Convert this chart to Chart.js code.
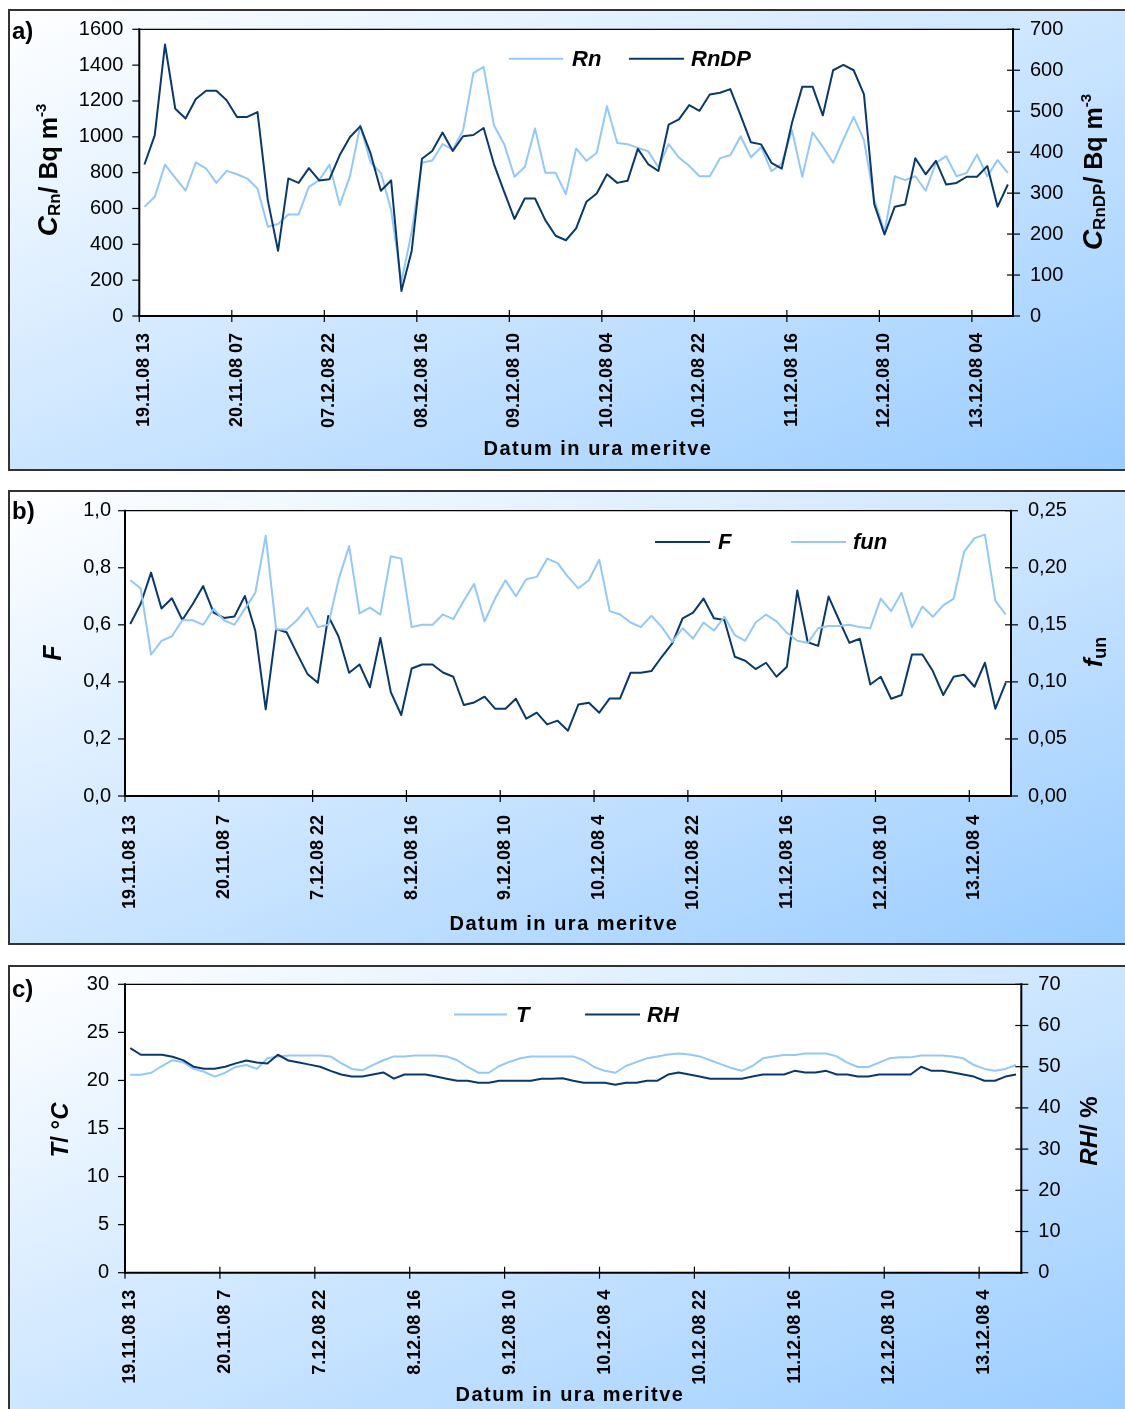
<!DOCTYPE html>
<html>
<head>
<meta charset="utf-8">
<title>Rn, RnDP, F, fun, T, RH</title>
<script src="https://cdn.jsdelivr.net/npm/chart.js@4.4.1/dist/chart.umd.min.js"></script>
<style>
  html, body { margin: 0; padding: 0; background: #fff; width: 1125px; height: 1409px; overflow: hidden; position: relative; }
  .panel { position: absolute; left: 8px; width: 1135px; box-sizing: border-box; border: 2px solid #333;
           background: linear-gradient(to bottom right, #ffffff 0%, #99ccff 100%); }
  canvas { position: absolute; left: 0; }
</style>
</head>
<body>
<div class="panel" style="top:9px;height:462px"></div>
<div class="panel" style="top:490px;height:455px"></div>
<div class="panel" style="top:965px;height:460px"></div>
<canvas id="chartA" width="1125" height="461" style="top:9px;width:1125px;height:461px"></canvas>
<canvas id="chartB" width="1125" height="454" style="top:490px;width:1125px;height:454px"></canvas>
<canvas id="chartC" width="1125" height="444" style="top:965px;width:1125px;height:444px"></canvas>
<script>
// Readings every 2 hours; a date label is written on every 9th reading (18 h).
const LABEL_EVERY = 9;

const tickLabelsA = ['19.11.08 13', '20.11.08 07', '07.12.08 22', '08.12.08 16', '09.12.08 10',
                     '10.12.08 04', '10.12.08 22', '11.12.08 16', '12.12.08 10', '13.12.08 04'];
const tickLabelsBC = ['19.11.08 13', '20.11.08 7', '7.12.08 22', '8.12.08 16', '9.12.08 10',
                      '10.12.08 4', '10.12.08 22', '11.12.08 16', '12.12.08 10', '13.12.08 4'];

// a) radon concentration (left axis) and radon decay products (right axis), Bq m-3
const rn = [
  609, 665, 845, 771, 699, 857, 823, 743, 810, 791,
  767, 712, 498, 513, 567, 567, 721, 758, 845, 619,
  782, 1065, 857, 799, 591, 190, 470, 855, 868, 959,
  929, 1037, 1356, 1390, 1065, 959, 777, 832, 1046, 799,
  799, 680, 935, 866, 910, 1171, 966, 959, 938, 920,
  830, 959, 884, 838, 780, 780, 881, 897, 1003, 886,
  942, 808, 851, 1037, 777, 1024, 944, 855, 985, 1111,
  981, 650, 470, 780, 758, 780, 699, 855, 892, 780,
  799, 901, 780, 870, 799
];
const rnDP = [
  370, 441, 663, 506, 482, 530, 550, 550, 527, 486,
  486, 498, 283, 159, 336, 325, 361, 331, 334, 393,
  437, 463, 397, 306, 331, 61, 159, 384, 403, 448,
  403, 439, 442, 459, 371, 303, 237, 287, 287, 234,
  196, 185, 214, 279, 299, 346, 325, 330, 408, 371,
  354, 467, 480, 515, 501, 541, 545, 554, 490, 424,
  419, 374, 360, 472, 560, 560, 490, 600, 613, 600,
  541, 273, 199, 267, 272, 385, 346, 379, 321, 325,
  340, 340, 366, 267, 321
];

// b) equilibrium factor F (left axis) and unattached fraction fun (right axis)
const equilibriumF = [
  0.603, 0.673, 0.783, 0.657, 0.693, 0.617, 0.673, 0.736, 0.643, 0.624,
  0.629, 0.701, 0.579, 0.304, 0.585, 0.574, 0.500, 0.428, 0.397, 0.631,
  0.558, 0.432, 0.461, 0.381, 0.554, 0.364, 0.284, 0.447, 0.461, 0.461,
  0.433, 0.418, 0.319, 0.328, 0.348, 0.306, 0.306, 0.341, 0.271, 0.292,
  0.251, 0.264, 0.229, 0.321, 0.327, 0.292, 0.342, 0.342, 0.432, 0.432,
  0.438, 0.488, 0.535, 0.623, 0.643, 0.692, 0.623, 0.617, 0.488, 0.474,
  0.445, 0.467, 0.418, 0.453, 0.720, 0.539, 0.526, 0.699, 0.617, 0.537,
  0.551, 0.391, 0.418, 0.341, 0.354, 0.496, 0.496, 0.438, 0.354, 0.418,
  0.425, 0.383, 0.467, 0.306, 0.397
];
const fun = [
  0.189, 0.182, 0.124, 0.136, 0.140, 0.154, 0.154, 0.150, 0.164, 0.154,
  0.150, 0.164, 0.178, 0.228, 0.146, 0.146, 0.154, 0.165, 0.148, 0.150,
  0.190, 0.219, 0.160, 0.165, 0.159, 0.210, 0.208, 0.148, 0.150, 0.150,
  0.159, 0.155, 0.171, 0.186, 0.153, 0.173, 0.189, 0.175, 0.190, 0.192,
  0.208, 0.204, 0.192, 0.182, 0.189, 0.207, 0.162, 0.159, 0.152, 0.148,
  0.158, 0.148, 0.135, 0.147, 0.138, 0.152, 0.145, 0.157, 0.141, 0.136,
  0.152, 0.159, 0.153, 0.143, 0.136, 0.134, 0.147, 0.149, 0.149, 0.150,
  0.148, 0.147, 0.173, 0.162, 0.178, 0.148, 0.166, 0.157, 0.167, 0.173,
  0.214, 0.226, 0.229, 0.171, 0.159
];

// c) air temperature in °C (left axis) and relative humidity in % (right axis)
const temperature = [
  20.6, 20.6, 20.8, 21.5, 22.1, 21.9, 21.2, 20.9, 20.4, 20.8,
  21.4, 21.6, 21.2, 22.3, 22.5, 22.6, 22.6, 22.6, 22.6, 22.5,
  21.8, 21.2, 21.05, 21.6, 22.1, 22.5, 22.5, 22.6, 22.6, 22.6,
  22.5, 22.1, 21.4, 20.8, 20.8, 21.5, 21.95, 22.3, 22.5, 22.5,
  22.5, 22.5, 22.5, 22.1, 21.4, 21.0, 20.8, 21.5, 21.9, 22.3,
  22.5, 22.7, 22.8, 22.7, 22.5, 22.1, 21.7, 21.3, 21.0, 21.5,
  22.3, 22.5, 22.65, 22.65, 22.8, 22.8, 22.8, 22.5, 21.85, 21.4,
  21.4, 21.85, 22.3, 22.4, 22.4, 22.6, 22.6, 22.6, 22.5, 22.3,
  21.6, 21.2, 21.0, 21.2, 21.6
];
const humidity = [
  54.5, 52.9, 52.9, 52.9, 52.4, 51.6, 50.0, 49.5, 49.5, 50.0,
  50.8, 51.5, 51.0, 50.8, 52.9, 51.5, 51.0, 50.5, 50.0, 49.0,
  48.1, 47.6, 47.6, 48.1, 48.6, 47.1, 48.1, 48.1, 48.1, 47.6,
  47.1, 46.6, 46.6, 46.1, 46.1, 46.6, 46.6, 46.6, 46.6, 47.1,
  47.1, 47.2, 46.6, 46.1, 46.1, 46.1, 45.6, 46.1, 46.1, 46.6,
  46.6, 48.1, 48.6, 48.1, 47.6, 47.1, 47.1, 47.1, 47.1, 47.6,
  48.1, 48.1, 48.1, 49.0, 48.6, 48.6, 49.0, 48.1, 48.1, 47.6,
  47.6, 48.1, 48.1, 48.1, 48.1, 50.0, 49.0, 49.0, 48.6, 48.1,
  47.6, 46.6, 46.6, 47.6, 48.1
];

const FAMILY = "'Liberation Sans', Arial, Helvetica, sans-serif";
const DARK = '#0b386b';
const LIGHT = '#95c7f7';
const PAGE_W = 1125;

const comma = (digits) => (v) => Number(v).toFixed(digits).replace('.', ',');
const plain = (v) => String(v);

function drawRotatedRuns(ctx, runs, baseX, centerY) {
  let total = 0;
  runs.forEach(r => { ctx.font = r.font; r.w = ctx.measureText(r.text).width; total += r.w; });
  ctx.save();
  ctx.translate(baseX, centerY);
  ctx.rotate(-Math.PI / 2);
  ctx.textAlign = 'left';
  ctx.textBaseline = 'alphabetic';
  ctx.fillStyle = '#000';
  let x = -total / 2;
  runs.forEach(r => { ctx.font = r.font; ctx.fillText(r.text, x, r.dy || 0); x += r.w; });
  ctx.restore();
}

function panelPlugin(p) {
  return {
    id: 'panelDecor',
    beforeDraw(chart) {
      const { ctx, chartArea: a } = chart;
      ctx.save();
      ctx.fillStyle = '#ffffff';
      ctx.fillRect(a.left, a.top, a.right - a.left, a.bottom - a.top);
      ctx.restore();
    },
    afterDraw(chart) {
      const { ctx, chartArea: a, scales } = chart;
      const seg = (x1, y1, x2, y2) => { ctx.beginPath(); ctx.moveTo(x1, y1); ctx.lineTo(x2, y2); ctx.stroke(); };
      ctx.save();
      ctx.strokeStyle = '#000';
      ctx.lineCap = 'butt';

      // plot frame
      ctx.lineWidth = 1.3;
      seg(a.left, a.top, a.right, a.top);
      ctx.lineWidth = 2;
      seg(a.left, a.top - 1, a.left, a.bottom + 1);
      seg(a.left - 1, a.bottom, a.right + 1, a.bottom);
      seg(a.right, a.top - 1, a.right, a.bottom + 1);

      // tick marks
      ctx.lineWidth = 1.2;
      const xs = scales.x;
      const cw = xs.getPixelForValue(1) - xs.getPixelForValue(0);
      for (let i = 0; i < xs.ticks.length; i += LABEL_EVERY) {
        const px = xs.getPixelForValue(i) - cw / 2;
        seg(px, a.bottom - 6, px, a.bottom + 6);
      }
      scales.yL.ticks.forEach(t => {
        const py = scales.yL.getPixelForValue(t.value);
        seg(a.left - 7, py, a.left, py);
      });
      scales.yR.ticks.forEach(t => {
        const py = scales.yR.getPixelForValue(t.value);
        seg(a.right - 6, py, a.right + 7, py);
      });

      // panel letter
      ctx.fillStyle = '#000';
      ctx.textAlign = 'left';
      ctx.textBaseline = 'alphabetic';
      ctx.font = `bold 24px ${FAMILY}`;
      ctx.fillText(p.letter.text, p.letter.x, p.letter.y);

      // legend
      ctx.lineWidth = 2;
      ctx.font = `italic bold 22px ${FAMILY}`;
      ctx.textBaseline = 'middle';
      p.legend.forEach(item => {
        ctx.strokeStyle = item.color;
        seg(item.x1, p.legendY, item.x2, p.legendY);
        ctx.fillStyle = '#000';
        ctx.fillText(item.label, item.tx, p.legendY + 1);
      });

      // category axis title
      ctx.textAlign = 'center';
      ctx.textBaseline = 'alphabetic';
      ctx.font = `bold 20px ${FAMILY}`;
      if ('letterSpacing' in ctx) ctx.letterSpacing = '1.5px';
      ctx.fillText('Datum in ura meritve', p.xTitle.x, p.xTitle.y);
      if ('letterSpacing' in ctx) ctx.letterSpacing = '0px';

      // value axis titles
      drawRotatedRuns(ctx, p.leftTitle.runs, p.leftTitle.x, p.leftTitle.y);
      drawRotatedRuns(ctx, p.rightTitle.runs, p.rightTitle.x, p.rightTitle.y);
      ctx.restore();
    }
  };
}

function buildChart(canvasId, p) {
  const H = p.height;
  const n = p.series[0].data.length;
  const categories = Array.from({ length: n }, (_, i) => (i % LABEL_EVERY === 0 ? p.tickLabels[i / LABEL_EVERY] : ''));
  const yAxis = (ax, pos, widthFn) => ({
    type: 'linear',
    position: pos,
    min: ax.min,
    max: ax.max,
    grid: { display: false, drawTicks: false },
    border: { display: false },
    ticks: {
      stepSize: ax.step,
      padding: ax.pad,
      color: '#000',
      font: { family: FAMILY, size: 20 },
      callback: ax.fmt
    },
    afterFit: (s) => {
      s.width = widthFn();
      s.paddingTop = 0;
      s.paddingBottom = 0;
    }
  });
  return new Chart(document.getElementById(canvasId), {
    type: 'line',
    data: {
      labels: categories,
      datasets: p.series.map(s => ({
        label: s.name,
        data: s.data,
        yAxisID: s.axis,
        borderColor: s.color,
        backgroundColor: s.color,
        borderWidth: 2,
        borderJoinStyle: 'round',
        pointRadius: 0,
        tension: 0,
        fill: false,
        order: s.order
      }))
    },
    options: {
      responsive: false,
      animation: false,
      devicePixelRatio: 1,
      layout: { padding: { top: p.area.top, left: 0, right: 0, bottom: 0 } },
      plugins: { legend: { display: false }, tooltip: { enabled: false } },
      scales: {
        x: {
          type: 'category',
          offset: true,
          grid: { display: false, drawTicks: false },
          border: { display: false },
          ticks: {
            autoSkip: false,
            minRotation: 90,
            maxRotation: 90,
            padding: p.xPad,
            color: '#000',
            font: { family: FAMILY, size: 18, weight: 'bold' }
          },
          afterFit: (s) => {
            s.height = H - p.area.bottom;
            s.paddingLeft = 0;
            s.paddingRight = 0;
          }
        },
        yL: yAxis(p.left, 'left', () => p.area.left),
        yR: yAxis(p.right, 'right', () => PAGE_W - p.area.right)
      }
    },
    plugins: [panelPlugin(p)]
  });
}

const F_BI = (s) => `italic bold ${s}px ${FAMILY}`;
const F_B = (s) => `bold ${s}px ${FAMILY}`;

buildChart('chartA', {
  height: 461,
  area: { left: 139.3, right: 1013, top: 20.3, bottom: 307 },
  tickLabels: tickLabelsA,
  xPad: 17,
  left: { min: 0, max: 1600, step: 200, pad: 16, fmt: plain },
  right: { min: 0, max: 700, step: 100, pad: 17, fmt: plain },
  series: [
    { name: 'Rn', data: rn, axis: 'yL', color: LIGHT, order: 1 },
    { name: 'RnDP', data: rnDP, axis: 'yR', color: DARK, order: 0 }
  ],
  letter: { text: 'a)', x: 12, y: 30 },
  legendY: 49.7,
  legend: [
    { color: LIGHT, x1: 509, x2: 563, label: 'Rn', tx: 572 },
    { color: DARK, x1: 629, x2: 684, label: 'RnDP', tx: 691 }
  ],
  xTitle: { x: 598, y: 446 },
  leftTitle: { x: 57, y: 161, runs: [
    { text: 'C', font: F_BI(28) },
    { text: 'Rn', font: F_B(17), dy: 3 },
    { text: '/ Bq m', font: F_B(25) },
    { text: '-3', font: F_B(15), dy: -11 }
  ] },
  rightTitle: { x: 1102, y: 163, runs: [
    { text: 'C', font: F_BI(28) },
    { text: 'RnDP', font: F_B(17), dy: 3 },
    { text: '/ Bq m', font: F_B(25) },
    { text: '-3', font: F_B(15), dy: -11 }
  ] }
});

buildChart('chartB', {
  height: 454,
  area: { left: 125, right: 1011, top: 20.7, bottom: 306 },
  tickLabels: tickLabelsBC,
  xPad: 19,
  left: { min: 0, max: 1, step: 0.2, pad: 14, fmt: comma(1) },
  right: { min: 0, max: 0.25, step: 0.05, pad: 17, fmt: comma(2) },
  series: [
    { name: 'F', data: equilibriumF, axis: 'yL', color: DARK, order: 1 },
    { name: 'fun', data: fun, axis: 'yR', color: LIGHT, order: 0 }
  ],
  letter: { text: 'b)', x: 12, y: 29 },
  legendY: 52,
  legend: [
    { color: DARK, x1: 655, x2: 710, label: 'F', tx: 718 },
    { color: LIGHT, x1: 791, x2: 846, label: 'fun', tx: 853 }
  ],
  xTitle: { x: 564, y: 440 },
  leftTitle: { x: 61, y: 163, runs: [ { text: 'F', font: F_BI(25) } ] },
  rightTitle: { x: 1102, y: 162, runs: [
    { text: 'f', font: F_BI(26) },
    { text: 'un', font: F_B(18), dy: 4 }
  ] }
});

buildChart('chartC', {
  height: 444,
  area: { left: 125, right: 1021.3, top: 19.3, bottom: 307.7 },
  tickLabels: tickLabelsBC,
  xPad: 17,
  left: { min: 0, max: 30, step: 5, pad: 16, fmt: plain },
  right: { min: 0, max: 70, step: 10, pad: 17, fmt: plain },
  series: [
    { name: 'T', data: temperature, axis: 'yL', color: LIGHT, order: 1 },
    { name: 'RH', data: humidity, axis: 'yR', color: DARK, order: 0 }
  ],
  letter: { text: 'c)', x: 12, y: 32 },
  legendY: 49.5,
  legend: [
    { color: LIGHT, x1: 454, x2: 507, label: 'T', tx: 516 },
    { color: DARK, x1: 585, x2: 640, label: 'RH', tx: 647 }
  ],
  xTitle: { x: 570, y: 436 },
  leftTitle: { x: 68, y: 165, runs: [
    { text: 'T', font: F_BI(24) },
    { text: '/ °', font: F_B(24) },
    { text: 'C', font: F_BI(24) }
  ] },
  rightTitle: { x: 1097, y: 166, runs: [
    { text: 'RH', font: F_BI(24) },
    { text: '/ %', font: F_B(24) }
  ] }
});
</script>
</body>
</html>
